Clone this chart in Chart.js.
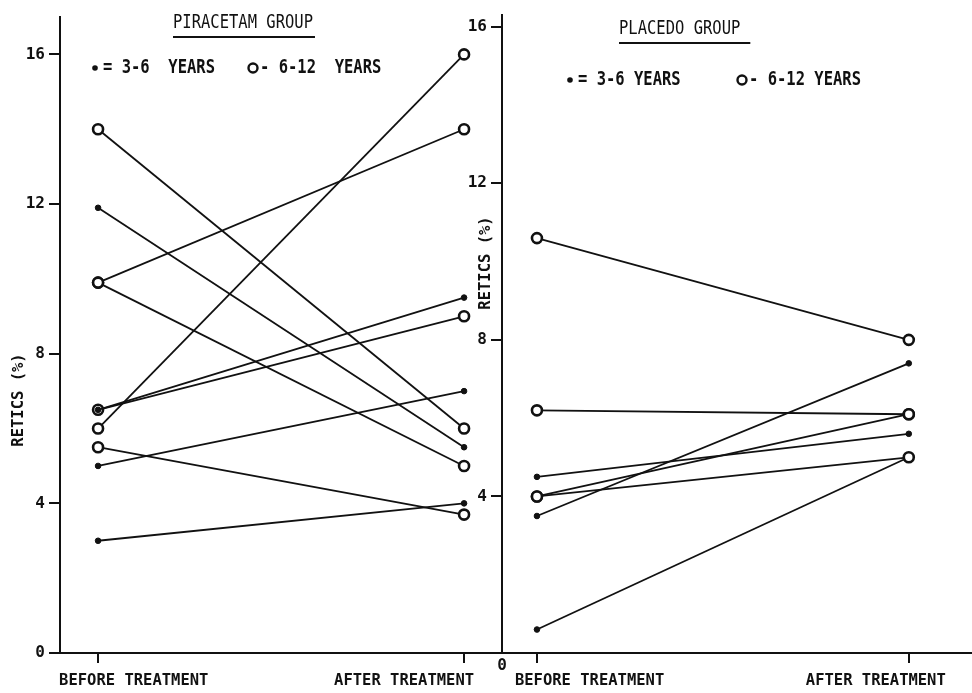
<!DOCTYPE html>
<html>
<head>
<meta charset="utf-8">
<title>Retics before and after treatment</title>
<script src="https://cdn.jsdelivr.net/npm/chart.js@4.4.1/dist/chart.umd.min.js"></script>
<style>
  body { margin: 0; background: #fff; }
  #wrap { position: relative; width: 972px; height: 693px; overflow: hidden; }
  canvas { position: absolute; top: 0; }
</style>
</head>
<body>
<div id="wrap">
  <canvas id="piracetam" width="500" height="693" style="left:0"></canvas>
  <canvas id="placebo" width="532" height="693" style="left:440px"></canvas>
</div>
<script>
// values (retics %, one line per child)
const timeLabels = ['BEFORE TREATMENT', 'AFTER TREATMENT'];
const yTicks = [0, 4, 8, 12, 16];

const piracetamBefore36 = [11.9, 6.5, 5.0, 3.0];
const piracetamAfter36 = [5.5, 9.5, 7.0, 4.0];
const piracetamBefore612 = [14.0, 9.9, 9.9, 6.5, 6.0, 5.5];
const piracetamAfter612 = [6.0, 14.0, 5.0, 9.0, 16.0, 3.7];

const placeboBefore36 = [4.5, 3.5, 0.6];
const placeboAfter36 = [5.6, 7.4, 5.0];
const placeboBefore612 = [10.6, 6.2, 4.0, 4.0];
const placeboAfter612 = [8.0, 6.1, 6.1, 5.0];

const INK = '#111';
const MONO = '"DejaVu Sans Mono", "Liberation Mono", monospace';

function pairSets(before, after, filled, order) {
  return before.map((b, i) => ({
    data: [{ x: 0, y: b }, { x: 1, y: after[i] }],
    borderColor: INK,
    borderWidth: 1.8,
    pointRadius: filled ? 2.8 : 5,
    pointBorderWidth: filled ? 1 : 2.6,
    pointBackgroundColor: filled ? INK : '#fff',
    pointBorderColor: INK,
    order: order
  }));
}

function tallText(ctx, txt, x, y, sy) {
  ctx.save();
  ctx.translate(x, y);
  ctx.scale(1, sy);
  ctx.fillText(txt, 0, 0);
  ctx.restore();
}

// titles, hand-drawn style legend, axis captions
const decor = {
  id: 'decor',
  afterDraw(chart, args, o) {
    const { ctx, scales: { x, y } } = chart;
    ctx.save();
    ctx.fillStyle = INK;
    ctx.strokeStyle = INK;

    ctx.font = '15.5px ' + MONO;
    ctx.textAlign = 'left';
    ctx.textBaseline = 'alphabetic';
    tallText(ctx, o.title, o.titleX, o.titleY, 1.3);
    const tw = ctx.measureText(o.title).width;
    ctx.lineWidth = 2;
    ctx.beginPath();
    ctx.moveTo(o.titleX, o.titleY + 9);
    ctx.lineTo(o.titleX + tw + o.underExtra, o.titleY + 9);
    ctx.stroke();

    // legend
    ctx.font = 'bold 15.5px ' + MONO;
    const ly = o.legendY;
    ctx.beginPath();
    ctx.arc(o.dotX, ly, 2.8, 0, Math.PI * 2);
    ctx.fill();
    ctx.textBaseline = 'middle';
    tallText(ctx, o.legend36, o.dotX + 8, ly, 1.2);
    ctx.lineWidth = 2.4;
    ctx.beginPath();
    ctx.arc(o.ringX, ly, 4.5, 0, Math.PI * 2);
    ctx.stroke();
    tallText(ctx, o.legend612, o.ringX + 7, ly, 1.2);

    // y axis caption
    ctx.save();
    ctx.translate(o.yTitleX, o.yTitleY);
    ctx.rotate(-Math.PI / 2);
    ctx.textAlign = 'center';
    ctx.fillText('RETICS (%)', 0, 0);
    ctx.restore();

    // x captions
    ctx.textBaseline = 'alphabetic';
    const p0 = x.getPixelForValue(0), p1 = x.getPixelForValue(1);
    ctx.textAlign = 'left';
    ctx.fillText(timeLabels[0], p0 + o.shift[0], 685);
    ctx.textAlign = 'right';
    ctx.fillText(timeLabels[1], p1 + o.shift[1], 685);

    if (o.zeroBelow) {
      ctx.font = 'bold 16px ' + MONO;
      ctx.textAlign = 'center';
      ctx.textBaseline = 'middle';
      ctx.fillText('0', x.left, y.getPixelForValue(0) + 13);
    }
    ctx.restore();
  }
};

function makeChart(id, datasets, yMax, xMin, xMax, axisW, pad, deco) {
  return new Chart(document.getElementById(id), {
    type: 'line',
    data: { datasets: datasets },
    plugins: [decor],
    options: {
      responsive: false,
      animation: false,
      devicePixelRatio: 1,
      layout: { padding: pad, autoPadding: false },
      plugins: { legend: { display: false }, tooltip: { enabled: false }, decor: deco },
      scales: {
        x: {
          type: 'linear', min: xMin, max: xMax,
          afterBuildTicks: s => { s.ticks = [{ value: 0 }, { value: 1 }]; },
          afterFit: s => { s.height = 40; },
          ticks: { display: false },
          grid: { drawOnChartArea: false, drawTicks: true, tickLength: 10, color: INK, lineWidth: 2 },
          border: { display: true, color: INK, width: 2 }
        },
        y: {
          type: 'linear', min: 0, max: yMax,
          afterBuildTicks: s => { s.ticks = yTicks.map(v => ({ value: v })); },
          afterFit: s => { s.width = axisW; },
          ticks: {
            padding: 4, color: INK,
            font: { family: MONO, size: 16, weight: 'bold' },
            callback: v => (deco.zeroBelow && v === 0 ? '' : String(v))
          },
          grid: { drawOnChartArea: false, drawTicks: true, tickLength: 11, color: INK, lineWidth: 2 },
          border: { display: true, color: INK, width: 2 }
        }
      }
    }
  });
}

makeChart('piracetam',
  pairSets(piracetamBefore36, piracetamAfter36, true, 0)
    .concat(pairSets(piracetamBefore612, piracetamAfter612, false, 1)),
  17, -0.104, 1.09, 60, { top: 17, right: 3, left: 0, bottom: 0 },
  {
    title: 'PIRACETAM GROUP', titleX: 173, titleY: 28, underExtra: 2,
    dotX: 95, ringX: 253, legendY: 68,
    legend36: '= 3-6  YEARS', legend612: '- 6-12  YEARS',
    yTitleX: 19, yTitleY: 400, shift: [-39, 10], zeroBelow: false
  });

makeChart('placebo',
  pairSets(placeboBefore612, placeboAfter612, false, 0)
    .concat(pairSets(placeboBefore36, placeboAfter36, true, 1)),
  16.3, -0.094, 1.17, 62, { top: 15, right: 0, left: 0, bottom: 0 },
  {
    title: 'PLACEDO GROUP', titleX: 179, titleY: 34, underExtra: 10,
    dotX: 130, ringX: 302, legendY: 80,
    legend36: '= 3-6 YEARS', legend612: '- 6-12 YEARS',
    yTitleX: 46, yTitleY: 263, shift: [-22, 37], zeroBelow: true
  });
</script>
</body>
</html>
